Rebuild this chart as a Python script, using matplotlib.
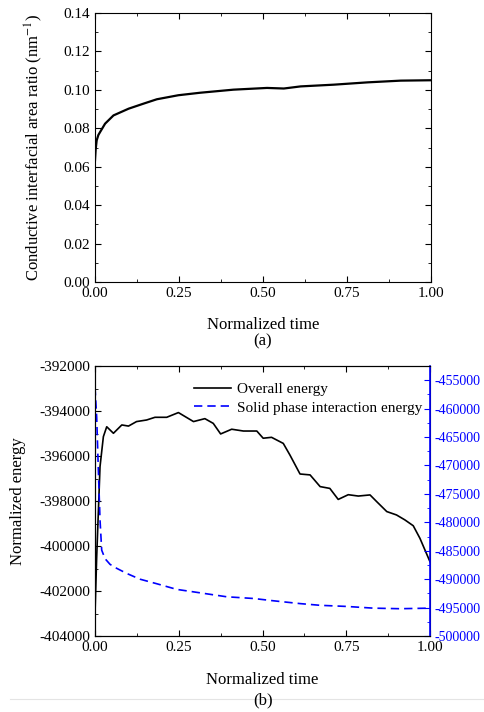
"""Two stacked panels: conductive interfacial area ratio and normalized energies vs time."""
import matplotlib

matplotlib.use("Agg")
import matplotlib.pyplot as plt
from matplotlib.lines import Line2D
from matplotlib.ticker import MultipleLocator, FormatStrFormatter

plt.rcParams["font.family"] = ["Liberation Serif", "DejaVu Serif"]
plt.rcParams["mathtext.fontset"] = "stix"

# panel (a): conductive interfacial area ratio (nm^-1)
time_a = [0.0, 0.002, 0.005, 0.01, 0.015, 0.03, 0.055, 0.1, 0.144, 0.184, 0.248,
          0.313, 0.412, 0.512, 0.562, 0.612, 0.711, 0.811, 0.91, 1.0]
area_ratio = [0.0633, 0.069, 0.0737, 0.0765, 0.078, 0.0824, 0.0867, 0.0902, 0.0928,
              0.0951, 0.0972, 0.0985, 0.1001, 0.1010, 0.1007, 0.1018, 0.1027,
              0.1039, 0.1048, 0.1050]

# panel (b): overall energy (left axis)
time_overall = [0.0, 0.005, 0.015, 0.025, 0.035, 0.055, 0.08, 0.1, 0.124, 0.154, 0.179,
                0.214, 0.249, 0.294, 0.328, 0.353, 0.375, 0.408, 0.443, 0.483, 0.502,
                0.527, 0.562, 0.582, 0.612, 0.642, 0.672, 0.701, 0.726, 0.756, 0.786,
                0.821, 0.841, 0.871, 0.9, 0.925, 0.95, 0.97, 1.0]
overall_energy = [-403000, -400500, -396470, -395140, -394700, -394990, -394620,
                  -394670, -394470, -394400, -394280, -394280, -394070, -394470,
                  -394340, -394550, -395020, -394810, -394890, -394890, -395210,
                  -395170, -395440, -395960, -396800, -396840, -397360, -397440,
                  -397930, -397720, -397780, -397730, -398030, -398470, -398620,
                  -398840, -399100, -399660, -400700]

# panel (b): solid phase interaction energy (right axis)
time_solid = [0.0, 0.005, 0.01, 0.015, 0.02, 0.03, 0.045, 0.065, 0.095, 0.134, 0.184,
              0.244, 0.313, 0.393, 0.473, 0.532, 0.612, 0.672, 0.751, 0.831, 0.91, 1.0]
solid_energy = [-456200, -461500, -470800, -479600, -484900, -486400, -487400,
                -488100, -489000, -490000, -490800, -491800, -492400, -493100,
                -493400, -493800, -494300, -494600, -494800, -495100, -495200,
                -495100]

W, H = 484, 712
fig = plt.figure(figsize=(W / 100, H / 100), dpi=100)


def style(ax):
    ax.tick_params(which="both", direction="in", top=True, labelsize=11)
    ax.tick_params(which="major", length=4)
    ax.tick_params(which="minor", length=2)
    ax.xaxis.set_major_locator(MultipleLocator(0.25))
    ax.xaxis.set_minor_locator(MultipleLocator(0.125))
    ax.xaxis.set_major_formatter(FormatStrFormatter("%.2f"))
    ax.set_xlim(0, 1)


# ---- panel (a)
ax1 = fig.add_axes([95 / W, 1 - 282 / H, 336 / W, 269 / H])
ax1.plot(time_a, area_ratio, color="black", lw=1.6)
style(ax1)
ax1.tick_params(right=True, which="both")
ax1.set_ylim(0, 0.14)
ax1.yaxis.set_major_locator(MultipleLocator(0.02))
ax1.yaxis.set_minor_locator(MultipleLocator(0.01))
ax1.yaxis.set_major_formatter(FormatStrFormatter("%.2f"))
ax1.set_xlabel("Normalized time", fontsize=12, labelpad=12)
ax1.set_ylabel("Conductive interfacial area ratio (nm$^{-1}$)", fontsize=12)
ax1.yaxis.set_label_coords(-0.15, 0.5)
fig.text(263 / W, 1 - 341 / H, "(a)", ha="center", va="center", fontsize=12)

# ---- panel (b)
ax2 = fig.add_axes([95 / W, 1 - 636 / H, 335 / W, 270 / H])
l1, = ax2.plot(time_overall, overall_energy, color="black", lw=1.2,
               label="Overall energy")
style(ax2)
ax2.set_ylim(-404000, -392000)
ax2.yaxis.set_major_locator(MultipleLocator(2000))
ax2.yaxis.set_minor_locator(MultipleLocator(1000))
ax2.yaxis.set_major_formatter(FormatStrFormatter("%d"))
ax2.set_xlabel("Normalized time", fontsize=12, labelpad=13)
ax2.set_ylabel("Normalized energy", fontsize=12)
ax2.yaxis.set_label_coords(-0.205, 0.5)

ax3 = ax2.twinx()
l2, = ax3.plot(time_solid, solid_energy, color="blue", lw=1.2, ls=(0, (5, 3)),
               label="Solid phase interaction energy")
ax3.set_ylim(-500000, -452500)
ax3.yaxis.set_major_locator(MultipleLocator(5000))
ax3.yaxis.set_minor_locator(MultipleLocator(2500))
ax3.yaxis.set_major_formatter(FormatStrFormatter("%d"))
ax3.tick_params(which="both", direction="in", colors="blue", labelsize=10, pad=3)
ax3.tick_params(which="major", length=4)
ax3.tick_params(which="minor", length=2)
ax3.spines["right"].set_color("blue")
ax3.spines["right"].set_linewidth(1.2)

ax2.legend(handles=[l1, l2], loc="upper right", frameon=False, fontsize=11,
           handlelength=2.4, handletextpad=0.4, borderaxespad=0.7,
           labelspacing=0.3, bbox_to_anchor=(1 + 9 / 335, 1))

# faint separator line under the panels, as in the source page
fig.add_artist(Line2D([10 / W, 1], [1 - 699 / H, 1 - 699 / H],
                      transform=fig.transFigure, color="#e4e4e4", lw=0.8,
                      zorder=0))
fig.text(263 / W, 1 - 700 / H, "(b)", ha="center", va="center", fontsize=12)

fig.savefig("out.png", dpi=100)
plt.close(fig)
